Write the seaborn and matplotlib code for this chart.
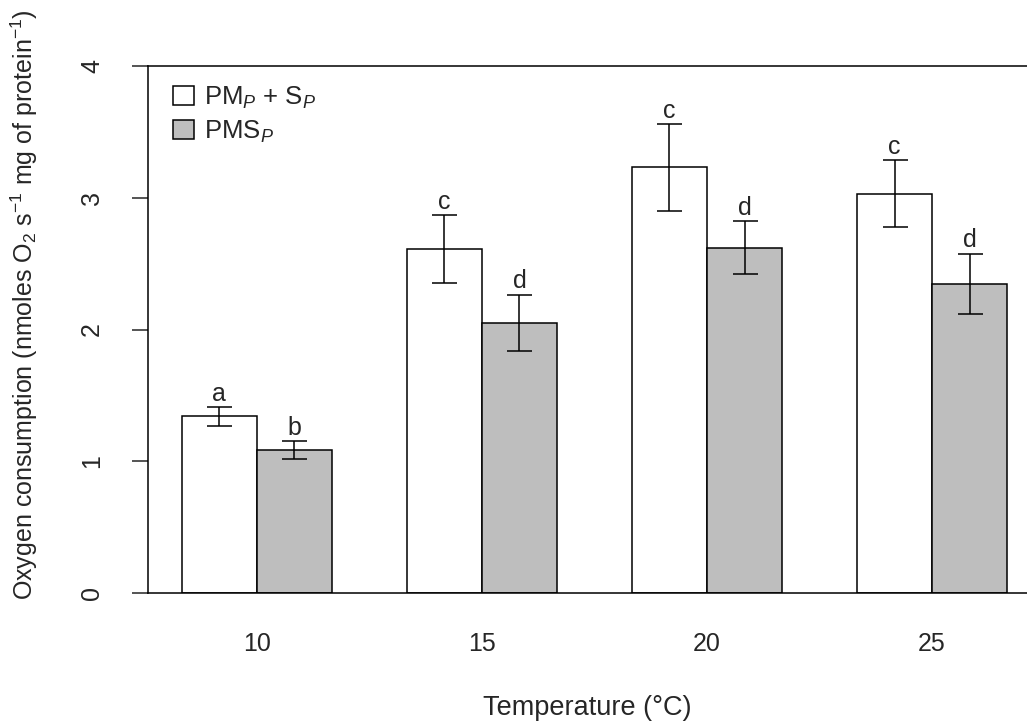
import pandas as pd
import seaborn as sns
import matplotlib.pyplot as plt
from matplotlib.patches import Patch

# datos
temperaturas = ["10", "15", "20", "25"]
pmp_sp = [1.34, 2.61, 3.23, 3.03]
pmp_sp_se = [0.07, 0.26, 0.33, 0.255]
pms_p = [1.085, 2.05, 2.62, 2.345]
pms_p_se = [0.07, 0.215, 0.20, 0.23]
letras_pmp_sp = ["a", "c", "c", "c"]
letras_pms_p = ["b", "d", "d", "d"]
grupos = ["PMP+SP", "PMSP"]
etiquetas = [r"PM$_{P}$ + S$_{P}$", r"PMS$_{P}$"]

df = pd.DataFrame({
    "temp": temperaturas * 2,
    "valor": pmp_sp + pms_p,
    "se": pmp_sp_se + pms_p_se,
    "letra": letras_pmp_sp + letras_pms_p,
    "grupo": [grupos[0]] * 4 + [grupos[1]] * 4,
})

sns.set_style("ticks")
plt.rcParams["font.family"] = ["Liberation Sans", "DejaVu Sans"]
plt.rcParams["mathtext.fontset"] = "custom"
plt.rcParams["mathtext.rm"] = "Liberation Sans"
plt.rcParams["mathtext.it"] = "Liberation Sans:italic"
plt.rcParams["mathtext.bf"] = "Liberation Sans:bold"

fig = plt.figure(figsize=(10.27, 7.23), dpi=100)
ax = fig.add_axes([148 / 1027, 130 / 723, 879 / 1027, 527 / 723])

colores = {grupos[0]: "white", grupos[1]: "#bebebe"}
sns.barplot(
    data=df, x="temp", y="valor", hue="grupo", hue_order=grupos,
    order=temperaturas, palette=colores, width=2 / 3, errorbar=None,
    edgecolor="black", linewidth=1.1, saturation=1, legend=False, ax=ax,
)

# barras de error y letras
for cont, g in zip(ax.containers, grupos):
    sub = df[df["grupo"] == g].set_index("temp").loc[temperaturas]
    xs = [p.get_x() + p.get_width() / 2 for p in cont]
    ax.errorbar(xs, sub["valor"], yerr=sub["se"], fmt="none", ecolor="black",
                elinewidth=1.1, capsize=9, capthick=1.1, zorder=5)
    for x, v, s, l in zip(xs, sub["valor"], sub["se"], sub["letra"]):
        ax.text(x, v + s + 0.01, l, ha="center", va="bottom", fontsize=18)

ax.set_xlim(-0.484, 3.422)
ax.set_ylim(0, 4)
ax.set_yticks([0, 1, 2, 3, 4])
ax.tick_params(axis="y", length=11.5, width=1.1, pad=20, labelsize=18,
               labelrotation=90)
for t in ax.get_yticklabels():
    t.set_va("center")
ax.tick_params(axis="x", length=0, pad=28, labelsize=18)

for s in ["left", "top", "bottom"]:
    ax.spines[s].set_linewidth(1.1)
    ax.spines[s].set_color("black")
ax.spines["right"].set_visible(False)

ax.set_xlabel("Temperature (°C)", fontsize=19.5)
ax.set_ylabel(r"Oxygen consumption (nmoles O$_2$ s$^{-1}$ mg of protein$^{-1}$)",
              fontsize=18)
ax.xaxis.set_label_coords(0.5, -0.193)
ax.yaxis.set_label_coords(-0.123, 0.547)

handles = [Patch(facecolor=colores[g], edgecolor="black", linewidth=1.1, label=e)
           for g, e in zip(grupos, etiquetas)]
ax.legend(handles=handles, loc="upper left", bbox_to_anchor=(0.029, 0.965),
          frameon=False, fontsize=18.5, handlelength=0.78, handleheight=0.78,
          handletextpad=0.42, labelspacing=0.3, borderpad=0, borderaxespad=0)

plt.savefig("out.png", dpi=100)
